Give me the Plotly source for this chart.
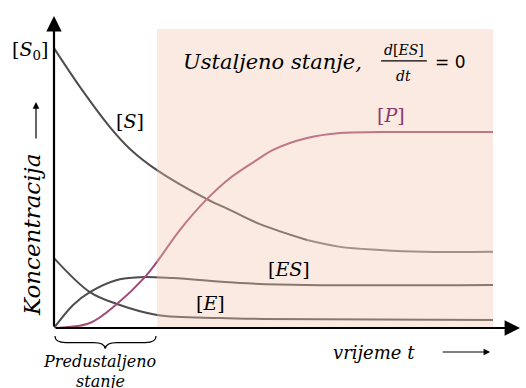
import plotly.graph_objects as go

# vrijeme (proizvoljne jedinice) i koncentracije ocitane sa slike
t_s = [0.0, 0.56, 1.20, 1.63, 2.21, 3.28, 3.78, 4.42, 5.43, 6.14, 7.00, 7.92, 9.42]
c_s = [0.897, 0.772, 0.644, 0.574, 0.506, 0.413, 0.378, 0.333, 0.282, 0.260, 0.250, 0.244, 0.244]

t_p = [0.0, 0.77, 1.35, 1.95, 2.21, 2.70, 3.28, 3.78, 4.42, 4.70, 5.43, 6.14, 7.00, 9.42]
c_p = [0.0, 0.016, 0.077, 0.163, 0.212, 0.314, 0.413, 0.481, 0.545, 0.571, 0.609, 0.625, 0.628, 0.628]

t_es = [0.0, 0.41, 0.77, 1.35, 1.85, 2.55, 3.99, 5.43, 9.42]
c_es = [0.0, 0.074, 0.115, 0.154, 0.163, 0.160, 0.144, 0.138, 0.138]

t_e = [0.0, 0.77, 1.35, 2.21, 3.56, 4.48, 9.42]
c_e = [0.224, 0.115, 0.077, 0.042, 0.032, 0.029, 0.026]

ustaljeno_od = 2.21
ustaljeno_do = 9.42

SIVA = "#4d4d4d"
ROZA = "#a04a76"
SERIF = "DejaVu Serif"

fig = go.Figure()

# [S] u dva dijela (svjetliji prema kraju)
k = t_s.index(5.43)
fig.add_trace(go.Scatter(x=t_s[:k + 1], y=c_s[:k + 1], mode="lines",
                         line=dict(color=SIVA, width=2, shape="spline")))
fig.add_trace(go.Scatter(x=t_s[k:], y=c_s[k:], mode="lines",
                         line=dict(color="#747474", width=2, shape="spline")))
fig.add_trace(go.Scatter(x=t_es, y=c_es, mode="lines",
                         line=dict(color=SIVA, width=2, shape="spline")))
fig.add_trace(go.Scatter(x=t_e, y=c_e, mode="lines",
                         line=dict(color=SIVA, width=2, shape="spline")))
fig.add_trace(go.Scatter(x=t_p, y=c_p, mode="lines",
                         line=dict(color=ROZA, width=2, shape="spline")))

# ustaljeno stanje - prozirni pravokutnik preko krivulja
fig.add_shape(type="rect", x0=ustaljeno_od, x1=ustaljeno_do, y0=0, y1=0.958,
              xref="x", yref="y", layer="above", line_width=0,
              fillcolor="rgb(244,197,172)", opacity=0.36)

# razlomak d[ES]/dt
fig.add_shape(type="line", x0=7.02, x1=8.0, y0=0.856, y1=0.856,
              xref="x", yref="paper", line=dict(color="black", width=1.2))

# viticasta zagrada ispod osi
fig.add_shape(type="path", xref="x", yref="paper",
              path="M 0.02,-0.026 Q 0.02,-0.047 0.25,-0.047 L 0.85,-0.047 "
                   "Q 1.08,-0.047 1.10,-0.066 Q 1.12,-0.047 1.35,-0.047 "
                   "L 1.96,-0.047 Q 2.19,-0.047 2.19,-0.026",
              line=dict(color="black", width=1.2))

# osi sa strelicama
fig.add_annotation(x=10.0, y=0, ax=0, ay=0, xref="x", yref="y", axref="x", ayref="y",
                   text="", showarrow=True, arrowhead=2, arrowsize=1.4,
                   arrowwidth=2.2, arrowcolor="black")
fig.add_annotation(x=0, y=1.0, ax=0, ay=0, xref="x", yref="y", axref="x", ayref="y",
                   text="", showarrow=True, arrowhead=2, arrowsize=1.4,
                   arrowwidth=2.2, arrowcolor="black")

# male strelice uz nazive osi
fig.add_annotation(x=9.36, y=-0.077, ax=-49, ay=0, xref="x", yref="paper",
                   axref="pixel", ayref="pixel", text="", showarrow=True,
                   arrowhead=2, arrowsize=1.1, arrowwidth=1.2, arrowcolor="black")
fig.add_annotation(x=-0.0386, y=0.724, ax=0, ay=38, xref="paper", yref="paper",
                   axref="pixel", ayref="pixel", text="", showarrow=True,
                   arrowhead=2, arrowsize=1.1, arrowwidth=1.2, arrowcolor="black")

oznake = [
    dict(x=1.63, y=0.663, text="[<i>S</i>]", color="black"),
    dict(x=7.23, y=0.683, text="[<i>P</i>]", color="#8b3a72"),
    dict(x=5.04, y=0.189, text="[<i>ES</i>]", color="black"),
    dict(x=3.35, y=0.080, text="[<i>E</i>]", color="black"),
]
for o in oznake:
    fig.add_annotation(x=o["x"], y=o["y"], text=o["text"], xref="x", yref="paper",
                       xanchor="center", yanchor="middle", showarrow=False,
                       font=dict(family=SERIF, size=19, color=o["color"]))

fig.add_annotation(x=-0.0515, y=0.89, xref="paper", yref="paper",
                   text="[<i>S</i><sub>0</sub>]", xanchor="center", yanchor="middle",
                   showarrow=False, font=dict(family=SERIF, size=19, color="black"))

fig.add_annotation(x=2.73, y=0.853, xref="x", yref="paper", text="<i>Ustaljeno stanje,</i>",
                   xanchor="left", yanchor="middle", showarrow=False,
                   font=dict(family=SERIF, size=21, color="black"))
fig.add_annotation(x=7.51, y=0.89, xref="x", yref="paper", text="<i>d</i>[<i>ES</i>]",
                   xanchor="center", yanchor="middle", showarrow=False,
                   font=dict(family=SERIF, size=14, color="black"))
fig.add_annotation(x=7.51, y=0.808, xref="x", yref="paper", text="<i>dt</i>",
                   xanchor="center", yanchor="middle", showarrow=False,
                   font=dict(family=SERIF, size=14, color="black"))
fig.add_annotation(x=8.13, y=0.853, xref="x", yref="paper", text="= 0",
                   xanchor="left", yanchor="middle", showarrow=False,
                   font=dict(family="DejaVu Sans", size=17, color="black"))

fig.add_annotation(x=5.94, y=-0.077, xref="x", yref="paper", text="<i>vrijeme t</i>",
                   xanchor="left", yanchor="middle", showarrow=False,
                   font=dict(family=SERIF, size=18, color="black"))
fig.add_annotation(x=0.97, y=-0.106, xref="x", yref="paper", text="<i>Predustaljeno</i>",
                   xanchor="center", yanchor="middle", showarrow=False,
                   font=dict(family=SERIF, size=16, color="black"))
fig.add_annotation(x=0.99, y=-0.173, xref="x", yref="paper", text="<i>stanje</i>",
                   xanchor="center", yanchor="middle", showarrow=False,
                   font=dict(family=SERIF, size=16, color="black"))
fig.add_annotation(x=-0.047, y=0.298, xref="paper", yref="paper", text="<i>Koncentracija</i>",
                   textangle=-90, xanchor="center", yanchor="middle", showarrow=False,
                   font=dict(family=SERIF, size=23, color="black"))

fig.update_xaxes(range=[0, 10], visible=False)
fig.update_yaxes(range=[0, 1], visible=False)
fig.update_layout(width=526, height=388, showlegend=False,
                  margin=dict(l=54, r=6, t=16, b=60),
                  plot_bgcolor="white", paper_bgcolor="white")

# bez rubova stranice, da slika pocinje u kutu prozora
fig.write_html("out.html", config={"displayModeBar": False},
               post_script="document.body.style.margin = '0px';")
